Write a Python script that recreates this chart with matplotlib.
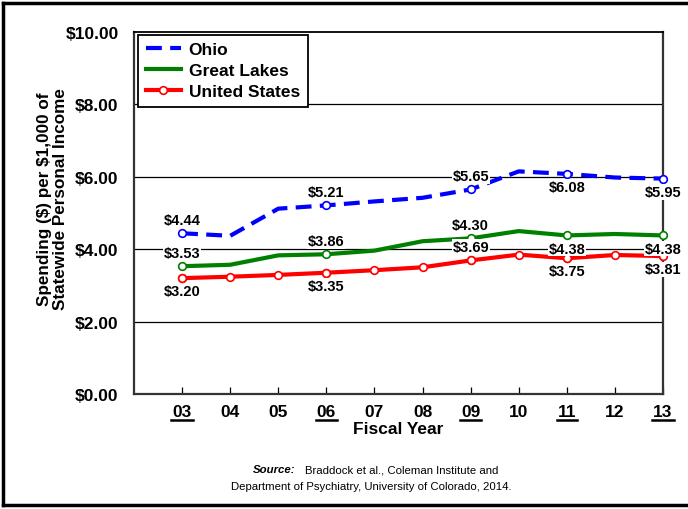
import matplotlib
matplotlib.use("Agg")
import matplotlib.pyplot as plt
from matplotlib.lines import Line2D

plt.rcParams['font.family'] = ['Liberation Sans', 'DejaVu Sans']

years = [3, 4, 5, 6, 7, 8, 9, 10, 11, 12, 13]
year_labels = ["03", "04", "05", "06", "07", "08", "09", "10", "11", "12", "13"]
underlined = ["03", "06", "09", "11", "13"]

ohio = [4.44, 4.37, 5.12, 5.21, 5.32, 5.42, 5.65, 6.15, 6.08, 5.98, 5.95]
great_lakes = [3.53, 3.57, 3.83, 3.86, 3.96, 4.22, 4.30, 4.50, 4.38, 4.42, 4.38]
united_states = [3.20, 3.24, 3.29, 3.35, 3.42, 3.50, 3.69, 3.85, 3.75, 3.84, 3.81]

# labelled years and whether the value label sits above (+1) or below (-1)
label_years = [3, 6, 9, 11, 13]
ohio_side = [1, 1, 1, -1, -1]
gl_side = [1, 1, 1, -1, -1]
us_side = [-1, -1, 1, -1, -1]

BLUE = "#0000ff"
GREEN = "#008000"
RED = "#ff0000"

fig = plt.figure(figsize=(6.88, 5.10), dpi=100)
ax = fig.add_axes([0.1948, 0.2255, 0.9637 - 0.1948, 0.9353 - 0.2255])

for y in [2, 4, 6, 8]:
    ax.axhline(y, color="black", lw=0.9, zorder=1)

lw = 3.0
ax.plot(years, ohio, color=BLUE, lw=lw, linestyle=(0, (3.8, 2.0)), zorder=3, label="Ohio")
ax.plot(years, great_lakes, color=GREEN, lw=lw, zorder=3, label="Great Lakes")
ax.plot(years, united_states, color=RED, lw=lw, zorder=3, marker="o", ms=5.5,
        mfc="white", mec=RED, mew=1.2, label="United States")

def mark_and_label(vals, color, sides):
    ys = [vals[years.index(y)] for y in label_years]
    ax.plot(label_years, ys, linestyle="none", marker="o", ms=5.5, mfc="white", mec=color,
            mew=1.2, zorder=4, clip_on=False)
    for x, v, s in zip(label_years, ys, sides):
        ax.annotate(f"${v:.2f}", (x, v), xytext=(0, 9.5 * s), textcoords="offset points",
                    ha="center", va="center", fontsize=10.5, fontweight="bold",
                    bbox=dict(boxstyle="square,pad=0.05", fc="white", ec="none"),
                    zorder=5, annotation_clip=False)

mark_and_label(ohio, BLUE, ohio_side)
mark_and_label(great_lakes, GREEN, gl_side)
mark_and_label(united_states, RED, us_side)

ax.set_xlim(2, 13)
ax.set_ylim(0, 10)
ax.set_yticks([0, 2, 4, 6, 8, 10])
ax.set_yticklabels([f"${v:.2f}" for v in [0, 2, 4, 6, 8, 10]], fontsize=12.5, fontweight="bold")
ax.set_xticks(years)
ax.set_xticklabels(year_labels, fontsize=12.5, fontweight="bold")
ax.tick_params(axis="y", length=0, pad=11)
ax.tick_params(axis="x", direction="in", length=5, width=0.9, pad=7)
for s in ["left", "bottom", "right"]:
    ax.spines[s].set_linewidth(1.6)
    ax.spines[s].set_color("#333333")
ax.spines["top"].set_linewidth(1.3)

ax.set_xlabel("Fiscal Year", fontsize=12.5, fontweight="bold", labelpad=2)
ax.set_ylabel("Spending (\\$) per \\$1,000 of\nStatewide Personal Income", fontsize=12.3,
              fontweight="bold", linespacing=1.15)
ax.yaxis.set_label_coords(-0.124, 0.54)

leg = ax.legend(loc="upper left", bbox_to_anchor=(0.008, 0.993), prop=dict(size=12.5, weight="bold"),
                frameon=True, fancybox=False, edgecolor="black", framealpha=1,
                handlelength=2.0, borderpad=0.45, labelspacing=0.33, handletextpad=0.45,
                borderaxespad=0)
leg.get_frame().set_linewidth(1.3)
leg.set_zorder(6)

fig.text(0.43, 0.078, "Source:", fontsize=8.2, ha="right", va="center",
         fontweight="bold", style="italic")
fig.text(0.443, 0.078, "Braddock et al., Coleman Institute and", fontsize=8.2, ha="left", va="center")
fig.text(0.54, 0.045, "Department of Psychiatry, University of Colorado, 2014.", fontsize=8.2,
         ha="center", va="center")

# underline selected tick labels
fig.canvas.draw()
r = fig.canvas.get_renderer()
for t in ax.get_xticklabels():
    if t.get_text() in underlined:
        bb = t.get_window_extent(r)
        y0 = bb.y0 - 1.5
        fig.add_artist(Line2D([bb.x0 - 1, bb.x1 + 1], [y0, y0], transform=None,
                              color="black", lw=1.8))

# outer frame
for xs, ys in [([0.005, 0.005], [0.008, 0.992]), ([0.005, 1.0], [0.992, 0.992]),
               ([0.005, 1.0], [0.008, 0.008])]:
    fig.add_artist(Line2D(xs, ys, transform=fig.transFigure, color="black", lw=2.5))

fig.savefig("out.png", dpi=100)
